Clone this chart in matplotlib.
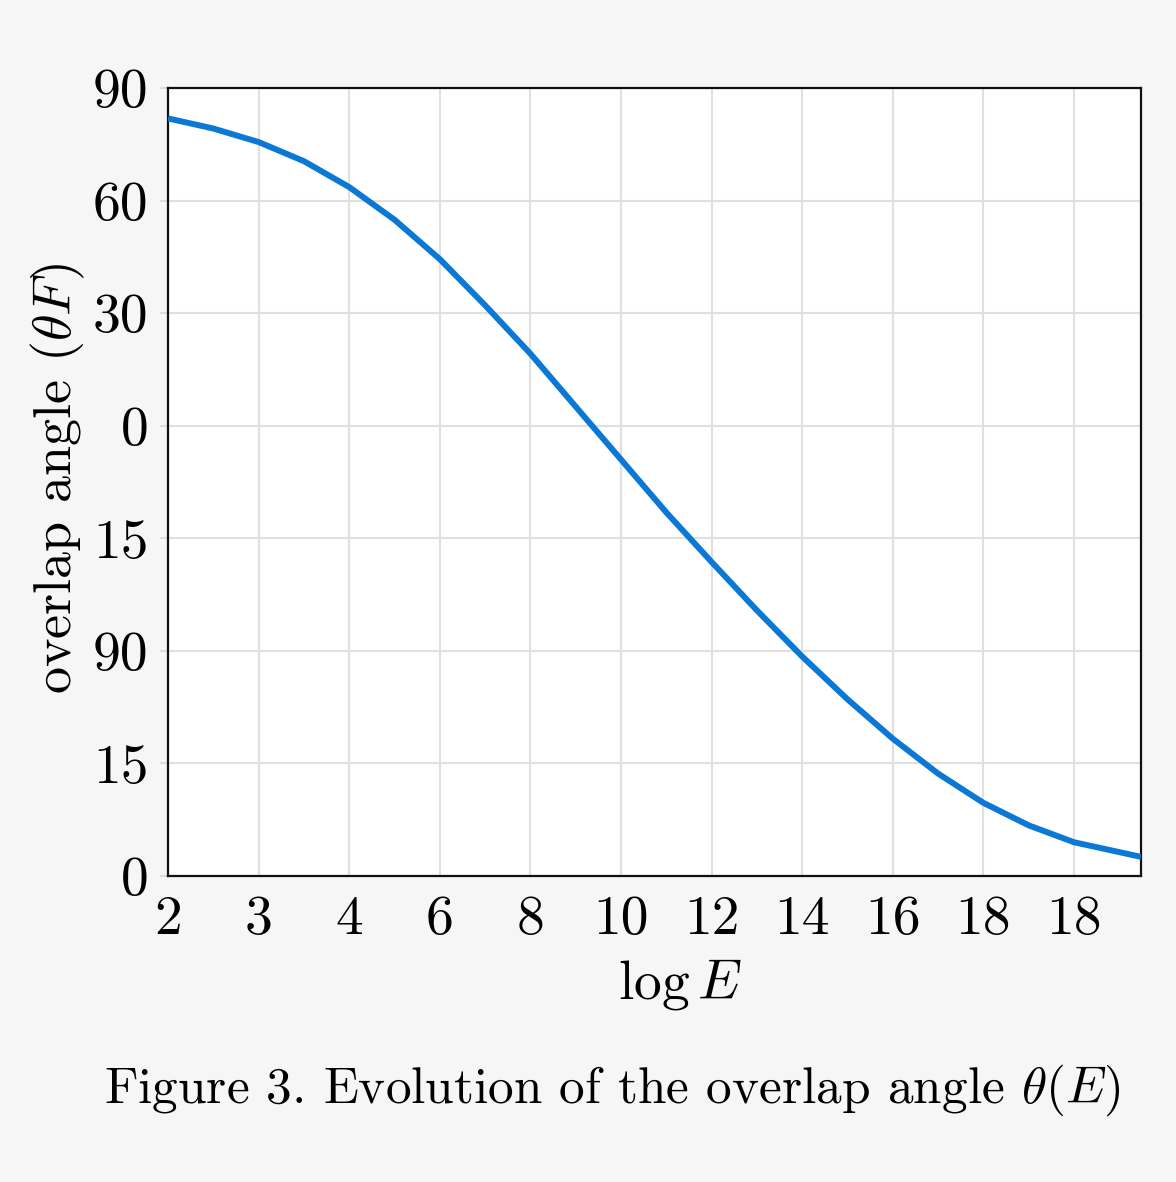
import matplotlib
matplotlib.use("Agg")
import matplotlib.pyplot as plt

# Data (x = tick index position, y = tick index position)
x_pos = [0, 0.5, 1, 1.5, 2, 2.5, 3, 3.5, 4, 4.5, 5, 5.5, 6, 6.5, 7, 7.5, 8, 8.5,
         9, 9.5, 10, 10.74]
theta = [6.73, 6.64, 6.52, 6.35, 6.12, 5.83, 5.48, 5.07, 4.64, 4.17, 3.70, 3.23, 2.79,
         2.36, 1.95, 1.57, 1.22, 0.91, 0.65, 0.45, 0.30, 0.17]
x_tick_labels = ['2', '3', '4', '6', '8', '10', '12', '14', '16', '18', '18']
y_tick_labels = ['0', '15', '90', '15', '0', '30', '60', '90']

plt.rcParams['mathtext.fontset'] = 'cm'
plt.rcParams['font.family'] = ['cmr10', 'DejaVu Serif']
plt.rcParams['axes.unicode_minus'] = False

W, H = 1176, 1182
fig = plt.figure(figsize=(W / 100, H / 100), dpi=100, facecolor='#f6f6f6')
ax = fig.add_axes([168 / W, 1 - 876 / H, (1141 - 168) / W, (876 - 88) / H])
ax.set_facecolor('white')

ax.plot(x_pos, theta, color='#0a78d4', lw=4.3, solid_capstyle='butt',
        solid_joinstyle='round', zorder=3)

ax.set_xlim(0, 10.74)
ax.set_ylim(0, 7)
ax.set_xticks(range(len(x_tick_labels)))
ax.set_xticklabels(x_tick_labels)
ax.set_yticks(range(len(y_tick_labels)))
ax.set_yticklabels(y_tick_labels)
ax.tick_params(axis='both', labelsize=40, color='#dddddd', width=1.5, length=6, pad=8)
ax.tick_params(axis='x', length=0, pad=14)
ax.grid(True, color='#e0e0e0', lw=1.5, zorder=0)
ax.set_axisbelow(True)
for s in ax.spines.values():
    s.set_color('#111111')
    s.set_linewidth(1.6)

fig.text(680 / W, 1 - 985 / H, r'$\log E$', fontsize=40, ha='center', va='center')
fig.text(58 / W, 1 - 478 / H, r'overlap angle $(\theta F)$', fontsize=39, rotation=90,
         ha='center', va='center')
fig.text(612 / W, 1 - 1090 / H, r'Figure 3. Evolution of the overlap angle $\theta(E)$',
         fontsize=37, ha='center', va='center')

fig.savefig('out.png', dpi=100, facecolor=fig.get_facecolor())
